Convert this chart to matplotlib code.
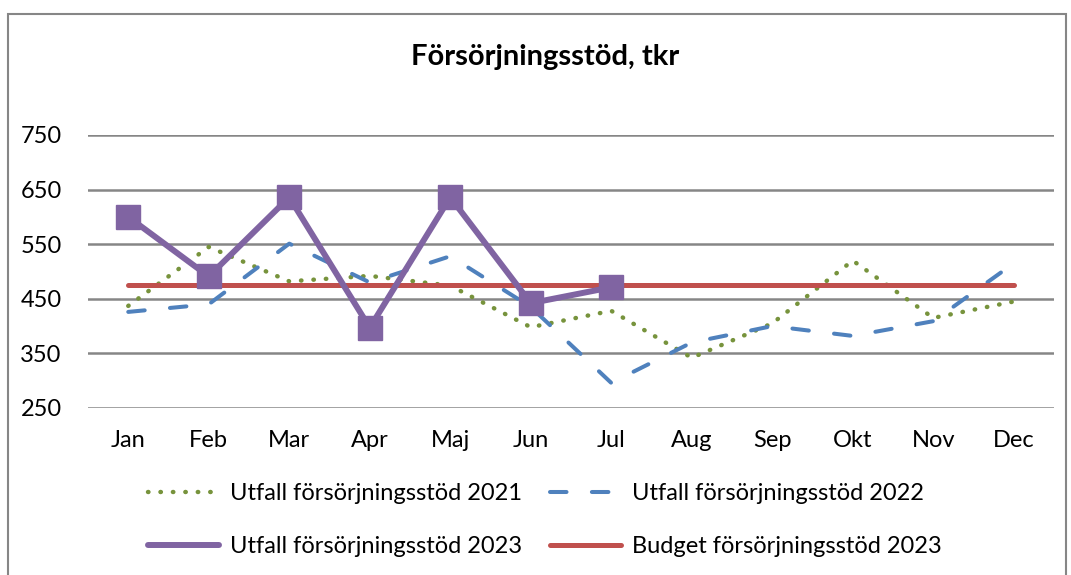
import matplotlib
matplotlib.use("Agg")
import matplotlib.pyplot as plt
from matplotlib.lines import Line2D
from matplotlib.patches import Rectangle

plt.rcParams["font.family"] = ["Lato", "DejaVu Sans"]

# data
months = ["Jan", "Feb", "Mar", "Apr", "Maj", "Jun", "Jul", "Aug", "Sep", "Okt", "Nov", "Dec"]
utfall_2021 = [437, 545, 482, 492, 474, 398, 428, 342, 405, 520, 415, 445]
utfall_2022 = [426, 440, 551, 480, 528, 435, 296, 370, 400, 382, 409, 515]
utfall_2023 = [600, 491, 636, 397, 636, 442, 471]
budget_2023 = [475] * 12
yticks = [250, 350, 450, 550, 650, 750]

W, H = 1071, 575
FS = 17
fig = plt.figure(figsize=(W / 100, H / 100), dpi=100)
ax = fig.add_axes([88 / W, 1 - 408 / H, (1054 - 88) / W, (408 - 135) / H])

x = list(range(len(months)))

c21, c22, c23, cbud = "#77933C", "#4F81BD", "#8064A2", "#C0504D"
st21 = dict(color=c21, lw=3.2, dashes=(0.1, 2.7), dash_capstyle="round")
st22 = dict(color=c22, lw=2.9, dashes=(4.1, 6.3), dash_capstyle="round")
st23 = dict(color=c23, lw=4.3, solid_capstyle="round")
stbud = dict(color=cbud, lw=3.6, solid_capstyle="round")

ax.plot(x, utfall_2021, **st21)
ax.plot(x, utfall_2022, **st22)
ax.plot(x, budget_2023, **stbud)
ax.plot(x[:len(utfall_2023)], utfall_2023, marker="s", ms=17, mec=c23, mew=1, **st23)

ax.set_xlim(-0.5, len(months) - 0.5)
ax.set_ylim(250, 750)
ax.set_yticks(yticks)
ax.set_xticks(x)
ax.set_xticklabels(months)
ax.tick_params(axis="both", length=0, labelsize=FS)
ax.tick_params(axis="x", pad=16)
ax.tick_params(axis="y", pad=19)
ax.grid(axis="y", color="#868686", lw=1.8)
ax.set_axisbelow(True)
for s in ax.spines.values():
    s.set_visible(False)

fig.text(545 / W, 1 - 57 / H, "Försörjningsstöd, tkr", ha="center", va="center",
         fontsize=21, fontweight="bold")

# legend: row 1 = 2021, 2022 ; row 2 = 2023, budget (no marker in legend)
handles = [Line2D([], [], **st21), Line2D([], [], **st23),
           Line2D([], [], **st22), Line2D([], [], **stbud)]
labels = ["Utfall försörjningsstöd 2021", "Utfall försörjningsstöd 2023",
          "Utfall försörjningsstöd 2022", "Budget försörjningsstöd 2023"]
fig.legend(handles, labels, ncol=2, frameon=False,
           fontsize=FS, handlelength=3.0, handletextpad=0.45, columnspacing=1.2,
           labelspacing=1.35, loc="center", bbox_to_anchor=(545 / W, 1 - 520 / H))

# outer chart frame
fig.patches.append(Rectangle((8 / W, -0.01), (1066 - 8) / W, 1 - 14 / H + 0.01,
                             transform=fig.transFigure, fill=False,
                             edgecolor="#868686", lw=1.5))

fig.savefig("out.png", dpi=100)
